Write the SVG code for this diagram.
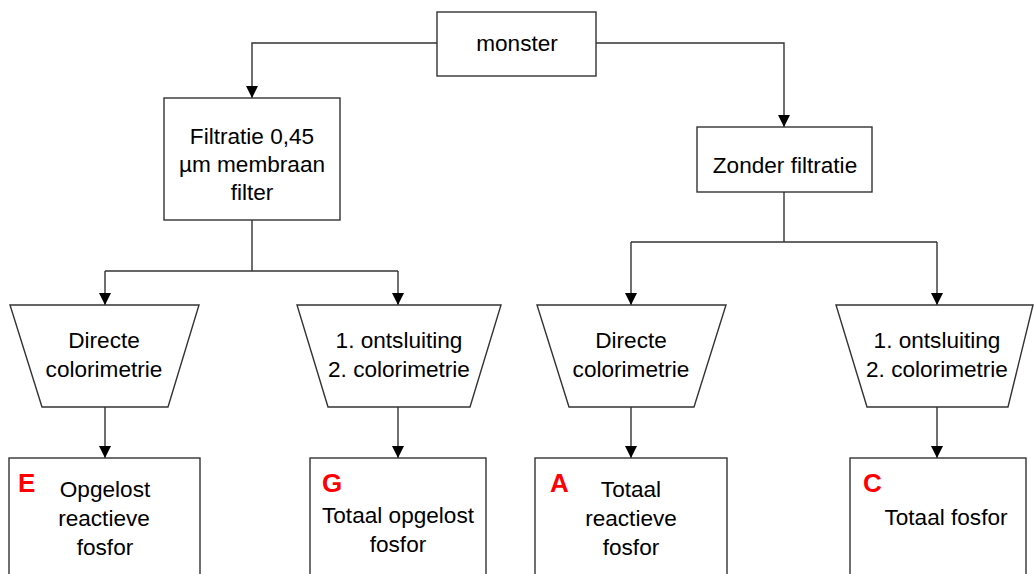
<svg xmlns="http://www.w3.org/2000/svg" width="1034" height="574" viewBox="0 0 1034 574">
<style>
.n{fill:#fff;stroke:#333;stroke-width:1.4}
.c{fill:none;stroke:#333;stroke-width:1.4}
text{font-family:"Liberation Sans",Arial,sans-serif;font-size:22.6px;fill:#000;text-anchor:middle}
.lbl{font-weight:bold;fill:#f00;font-size:26px;text-anchor:start}
</style>
<defs>
<marker id="ah" markerWidth="12" markerHeight="12" viewBox="0 0 12 12" refX="12" refY="6" orient="auto" markerUnits="userSpaceOnUse">
<path d="M0,0 L12,6 L0,12 Z" fill="#000"/>
</marker>
</defs>
<rect width="1034" height="574" fill="#fff"/>
<g id="connectors">
<path class="c" d="M437,43 H252 V98" marker-end="url(#ah)"/>
<path class="c" d="M596,43 H784 V127" marker-end="url(#ah)"/>
<path class="c" d="M252,220 V271"/>
<path class="c" d="M105,271 H398"/>
<path class="c" d="M105,271 V305" marker-end="url(#ah)"/>
<path class="c" d="M398,271 V305" marker-end="url(#ah)"/>
<path class="c" d="M784,192 V242"/>
<path class="c" d="M631,242 H937"/>
<path class="c" d="M631,242 V305" marker-end="url(#ah)"/>
<path class="c" d="M937,242 V305" marker-end="url(#ah)"/>
<path class="c" d="M105,407 V458" marker-end="url(#ah)"/>
<path class="c" d="M398,407 V458" marker-end="url(#ah)"/>
<path class="c" d="M631,407 V458" marker-end="url(#ah)"/>
<path class="c" d="M937,407 V458" marker-end="url(#ah)"/>
</g>
<g id="monster">
<rect class="n" x="437" y="12" width="159" height="64"/>
<text x="517" y="51">monster</text>
</g>
<g id="filtratie">
<rect class="n" x="164" y="98" width="176" height="122"/>
<text x="252" y="144">Filtratie 0,45</text>
<text x="252" y="172">µm membraan</text>
<text x="252" y="200">filter</text>
</g>
<g id="zonder">
<rect class="n" x="697" y="127" width="175" height="65"/>
<text x="785" y="173">Zonder filtratie</text>
</g>
<g id="trap1">
<polygon class="n" points="10,305 199,305 168,407 42,407"/>
<text x="104" y="348">Directe</text>
<text x="104" y="377">colorimetrie</text>
</g>
<g id="trap2">
<polygon class="n" points="297,305 501,305 470,407 328,407"/>
<text x="399" y="348">1. ontsluiting</text>
<text x="399" y="377">2. colorimetrie</text>
</g>
<g id="trap3">
<polygon class="n" points="537,305 726,305 694,407 569,407"/>
<text x="631" y="348">Directe</text>
<text x="631" y="377">colorimetrie</text>
</g>
<g id="trap4">
<polygon class="n" points="836,305 1033,305 1008,407 867,407"/>
<text x="937" y="348">1. ontsluiting</text>
<text x="937" y="377">2. colorimetrie</text>
</g>
<g id="boxE">
<rect class="n" x="9" y="458" width="191" height="130"/>
<text class="lbl" x="18" y="492">E</text>
<text x="105" y="497">Opgelost</text>
<text x="104" y="526">reactieve</text>
<text x="105" y="555">fosfor</text>
</g>
<g id="boxG">
<rect class="n" x="310" y="458" width="176" height="130"/>
<text class="lbl" x="322" y="492">G</text>
<text x="398" y="523">Totaal opgelost</text>
<text x="398" y="552">fosfor</text>
</g>
<g id="boxA">
<rect class="n" x="535" y="458" width="192" height="130"/>
<text class="lbl" x="550" y="492">A</text>
<text x="631" y="497">Totaal</text>
<text x="631" y="526">reactieve</text>
<text x="631" y="555">fosfor</text>
</g>
<g id="boxC">
<rect class="n" x="850" y="458" width="176" height="130"/>
<text class="lbl" x="863" y="492">C</text>
<text x="946" y="525">Totaal fosfor</text>
</g>
</svg>
